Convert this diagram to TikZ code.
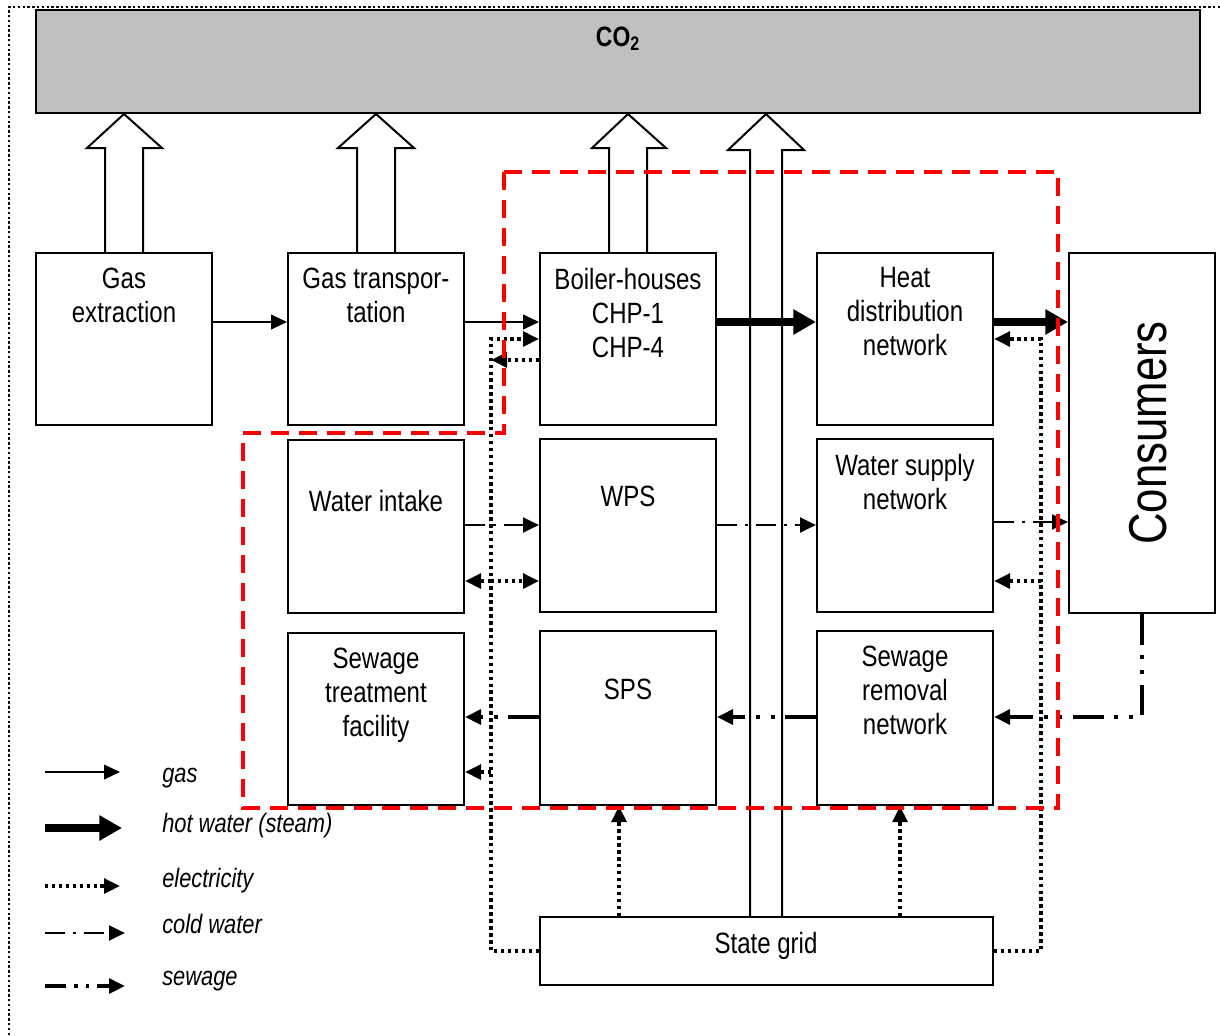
\documentclass[tikz,border=0pt]{standalone}
\usepackage{fontspec}
\setmainfont[FakeStretch=0.82]{Liberation Sans}
\usetikzlibrary{arrows.meta,fit,calc}
\begin{document}
\begin{tikzpicture}[x=0.75pt,y=-0.75pt,
  box/.style={draw, line width=1.5pt, inner sep=0pt},
  lbl/.style={anchor=north, align=center, inner sep=0pt, font=\fontsize{22}{25.5}\selectfont},
  leg/.style={anchor=base west, inner sep=0pt, font=\itshape\fontsize{20}{24}\selectfont},
  tip/.style={-{Triangle[length=12pt,width=11pt]}},
  gasarr/.style={line width=1.5pt, tip},
  hot/.style={line width=6pt, -{Triangle[length=17pt,width=18pt]}},
  elec/.style={line width=2.7pt, dash pattern=on 2.6pt off 2.6pt},
  elecarr/.style={elec, tip},
  cold/.style={line width=2.2pt, dash pattern=on 15pt off 6pt on 2.4pt off 6pt, tip},
  sew/.style={line width=2.8pt, dash pattern=on 23pt off 8pt on 3pt off 8pt on 3pt off 8pt, tip},
  sewleg/.style={sew, dash pattern=on 16pt off 6pt on 2.4pt off 6pt on 2.4pt off 6pt},
  reddash/.style={red, line width=2.6pt, dash pattern=on 13.5pt off 7.5pt},
  blockarr/.style={line width=1.5pt, line join=miter},
  frame/.style={line width=2pt, dash pattern=on 1.8pt off 1.8pt}
]
\useasboundingbox (0,0) rectangle (1220,1035);
\draw[frame] (9,1035) -- (9,7) -- (1220,7);

% CO2 box
\node[box, fill=black!25, line width=2.2pt, fit={(36,10) (1200,113)}] (co2) {};
\node[anchor=base, inner sep=0pt, font=\bfseries\fontsize{21}{25}\selectfont] (co2t) at (618,46) {CO\textsubscript{2}};

% boxes
\node[box, fit={(36,253) (212,425)}] (ge) {};
\node[box, fit={(288,253) (464,425)}] (gt) {};
\node[box, fit={(540,253) (716,425)}] (bh) {};
\node[box, fit={(817,253) (993,425)}] (hd) {};
\node[box, fit={(1069,253) (1215,613)}] (con) {};
\node[box, fit={(288,440) (464,613)}] (wi) {};
\node[box, fit={(540,439) (716,612)}] (wps) {};
\node[box, fit={(817,439) (993,612)}] (wsn) {};
\node[box, fit={(288,633) (464,805)}] (stf) {};
\node[box, fit={(540,631) (716,805)}] (sps) {};
\node[box, fit={(817,631) (993,805)}] (srn) {};
\node[box, fit={(540,917) (993,985)}] (sg) {};

% labels
\node[lbl] (geT) at (124,267.5) {Gas\\extraction};
\node[lbl] (gtT) at (376,267.5) {Gas transpor-\\tation};
\node[lbl] (bhT) at (628,267.5) {Boiler-houses\\CHP-1\\CHP-4};
\node[lbl] (hdT) at (905,267.5) {Heat\\distribution\\network};
\node[lbl] (wiT) at (376,489.5) {Water intake};
\node[lbl] (wpsT) at (628,485.5) {WPS};
\node[lbl] (wsnT) at (905,453.5) {Water supply\\network};
\node[lbl] (stfT) at (376,647.5) {Sewage\\treatment\\facility};
\node[lbl] (spsT) at (628,678.5) {SPS};
\node[lbl] (srnT) at (905,645.5) {Sewage\\removal\\network};
\node[lbl] (sgT) at (766,931.5) {State grid};
\node[rotate=90, inner sep=0pt, font=\fontsize{40}{44}\selectfont] (conT) at (1148,433) {Consumers};

% block arrows to CO2
\draw[blockarr] (105,253) -- (105,148) -- (87,148) -- (124,114) -- (162,148) -- (143,148) -- (143,253);
\draw[blockarr] (357,253) -- (357,148) -- (338,148) -- (376,114) -- (414,148) -- (395,148) -- (395,253);
\draw[blockarr] (609,253) -- (609,148) -- (592,148) -- (628,114) -- (666,148) -- (647,148) -- (647,253);
\draw[blockarr] (750,917) -- (750,150) -- (728,150) -- (766,114) -- (804,150) -- (782,150) -- (782,917);

% row coordinates
\coordinate (r1) at (0,322);
\coordinate (eTop) at (0,339);
\coordinate (eBack) at (0,360);
\coordinate (r2) at (0,525);
\coordinate (r2b) at (0,522);
\coordinate (e2) at (0,581);
\coordinate (r3) at (0,717);
\coordinate (e3) at (0,772);
\coordinate (eSg) at (0,951);
\coordinate (eL) at (491,0);
\coordinate (eR) at (1041,0);
\coordinate (sewX) at (1142,0);
\coordinate (sp1) at (619,0);
\coordinate (sp2) at (900,0);

% gas and hot water
\draw[gasarr] (ge.east |- r1) -- (gt.west |- r1);
\draw[gasarr] (gt.east |- r1) -- (bh.west |- r1);
\draw[hot] (bh.east |- r1) -- (hd.west |- r1);
\draw[hot] (hd.east |- r1) -- (con.west |- r1);

% cold water
\draw[cold] (wi.east |- r2) -- (wps.west |- r2);
\draw[cold] (wps.east |- r2) -- (wsn.west |- r2);
\draw[cold] (wsn.east |- r2b) -- (con.west |- r2b);

% sewage
\draw[sew] (con.south -| sewX) -- (sewX |- r3) -- (srn.east |- r3);
\draw[sew] (srn.west |- r3) -- (sps.east |- r3);
\draw[sew] (sps.west |- r3) -- (stf.east |- r3);

% electricity
\draw[elecarr] (sg.west |- eSg) -- (eL |- eSg) -- (eL |- eTop) -- (bh.west |- eTop);
\draw[elecarr] (bh.west |- eBack) -- (eL |- eBack);
\draw[elecarr] (eL |- e2) -- (wi.east |- e2);
\draw[elecarr] (eL |- e2) -- (wps.west |- e2);
\draw[elecarr] (eL |- e3) -- (stf.east |- e3);
\draw[elecarr] (sg.north -| sp1) -- (sps.south -| sp1);
\draw[elecarr] (sg.north -| sp2) -- (srn.south -| sp2);
\draw[elecarr] (sg.east |- eSg) -- (eR |- eSg) -- (eR |- eTop) -- (hd.east |- eTop);
\draw[elecarr] (eR |- e2) -- (wsn.east |- e2);

% red dashed boundary
\draw[reddash] (504,172) -- (1058,172) -- (1058,808) -- (243,808) -- (243,433) -- (504,433) -- cycle;

% legend
\coordinate (l1a) at (45,772); \coordinate (l1b) at (120,772);
\coordinate (l2a) at (45,828); \coordinate (l2b) at (122,828);
\coordinate (l3a) at (45,886); \coordinate (l3b) at (120,886);
\coordinate (l4a) at (45,933); \coordinate (l4b) at (125,933);
\coordinate (l5a) at (45,986); \coordinate (l5b) at (125,986);
\draw[gasarr] (l1a) -- (l1b);
\draw[hot] (l2a) -- (l2b);
\draw[elecarr] (l3a) -- (l3b);
\draw[cold] (l4a) -- (l4b);
\draw[sewleg] (l5a) -- (l5b);
\node[leg] (t1) at (162,782) {gas};
\node[leg] (t2) at (162,832) {hot water (steam)};
\node[leg] (t3) at (162,887) {electricity};
\node[leg] (t4) at (162,933) {cold water};
\node[leg] (t5) at (162,985) {sewage};
\end{tikzpicture}
\end{document}
